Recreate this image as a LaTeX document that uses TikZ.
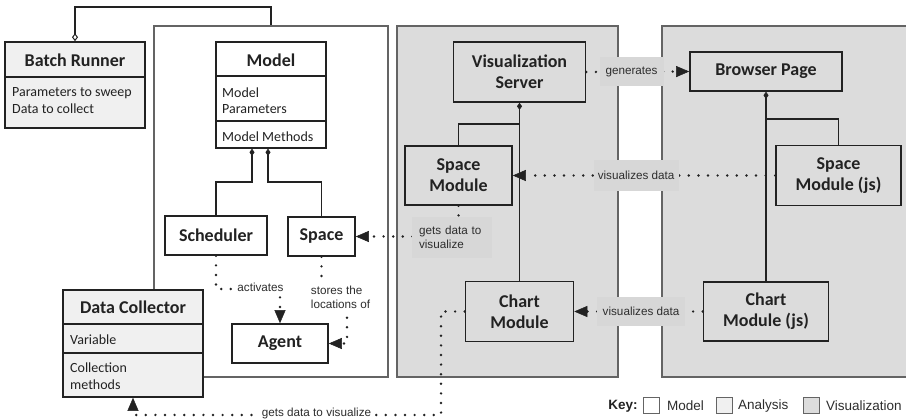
\documentclass[tikz,border=0pt]{standalone}
\usepackage{fontspec}
\setmainfont{Carlito}
\newfontfamily\lblfont{Liberation Sans}
\usepackage{tikz}
\usetikzlibrary{arrows.meta}
\usepackage{xcolor}
\definecolor{BoxLine}{RGB}{34,34,34}
\definecolor{AreaLine}{RGB}{100,100,100}
\definecolor{VisFill}{RGB}{220,220,220}
\definecolor{LblFill}{RGB}{215,215,215}
\definecolor{AnaFill}{RGB}{240,240,240}
\definecolor{LblText}{RGB}{45,45,45}

\begin{document}
\begin{tikzpicture}[x=1pt,y=-1pt,
  area/.style={draw=AreaLine,line width=1.1pt,inner sep=0pt},
  cls/.style={draw=BoxLine,line width=1.6pt,inner sep=0pt,text=BoxLine,
              font=\bfseries\fontsize{18}{21}\selectfont,align=center},
  txt/.style={font=\fontsize{14}{16.5}\selectfont,anchor=west,align=left,
              inner sep=0pt,text=BoxLine},
  sep/.style={draw=BoxLine,line width=1.6pt},
  link/.style={draw=BoxLine,line width=1.6pt},
  comp/.style={link,{Diamond[length=7pt,width=5pt,line width=0.5pt]}-},
  dots/.style={draw=BoxLine,line width=2.7pt,line cap=round,
               dash pattern=on 0pt off 9.6pt,
               -{Triangle[length=13pt,width=11pt,line width=0.5pt]}},
  lbl/.style={font=\lblfont\fontsize{11.7}{14}\selectfont,text=LblText,
              inner xsep=4pt,inner ysep=3pt},
  keybox/.style={draw=AreaLine,line width=1pt,minimum size=16pt,inner sep=0pt},
  keytxt/.style={font=\lblfont\fontsize{13.5}{16}\selectfont,text=LblText,
                 anchor=west,inner sep=0pt},
]
\useasboundingbox (0,0) rectangle (906,419);

% package areas
\node[area,fill=white,minimum width=234pt,minimum height=351pt] (modelarea) at (271,201.5) {};
\node[area,fill=VisFill,minimum width=221pt,minimum height=351pt] (visarea) at (507.5,201.5) {};
\node[area,fill=VisFill,minimum width=254pt,minimum height=351pt] (brwarea) at (789,201.5) {};

% batch runner
\node[cls,fill=AnaFill,minimum width=140pt,minimum height=86pt] (batch) at (75,85) {};
\node[cls,draw=none] (batchT) at (75,60) {Batch Runner};
\draw[sep] (batch.west |- 0,77) -- (batch.east |- 0,77);
\node[txt] (batchB) at (12,100.5) {Parameters to sweep\\Data to collect};
\draw[link,{Diamond[open,length=8pt,width=6pt,line width=1pt]}-]
  (batch.north) -- (75,7) -| (modelarea.north);

% model core
\node[cls,fill=white,minimum width=110pt,minimum height=106pt] (model) at (271,95) {};
\node[cls,draw=none] (modelT) at (271,60) {Model};
\draw[sep] (model.west |- 0,76) -- (model.east |- 0,76);
\draw[sep] (model.west |- 0,121) -- (model.east |- 0,121);
\node[txt] (modelP) at (222,100.5) {Model\\Parameters};
\node[txt] (modelM) at (222,137) {Model Methods};

\node[cls,fill=white,minimum width=102pt,minimum height=39pt] (sched) at (216,235.5) {Scheduler};
\node[cls,fill=white,minimum width=67pt,minimum height=39pt] (space) at (321.5,236.5) {Space};
\node[cls,fill=white,minimum width=96pt,minimum height=39pt] (agent) at (280,343.5) {Agent};

\draw[comp] (model.south -| 252,0) -- (252,182) -| (sched.north);
\draw[comp] (model.south -| 268,0) -- (268,182) -| (space.north);

\draw[dots] (sched.south) |- (agent.north |- 0,289) -- (agent.north);
\node[lbl,fill=white] (actlbl) at (260.5,287) {activates};
\draw[dots] (space.south) |- (347,297) |- (agent.east);
\node[lbl,fill=white,align=left] (storelbl) at (340.5,297) {stores the\\locations of};

% data collector
\node[cls,fill=AnaFill,minimum width=140pt,minimum height=107pt] (datacol) at (133,343.5) {};
\node[cls,draw=none] (datacolT) at (133,307) {Data Collector};
\draw[sep] (datacol.west |- 0,324) -- (datacol.east |- 0,324);
\draw[sep] (datacol.west |- 0,353) -- (datacol.east |- 0,353);
\node[txt] (datacolV) at (70,340) {Variable};
\node[txt] (datacolC) at (70,376) {Collection\\methods};

% visualization server side
\node[cls,fill=VisFill,minimum width=132pt,minimum height=60pt] (vserver) at (519.5,72) {Visualization\\Server};
\node[cls,fill=VisFill,minimum width=107pt,minimum height=59pt] (spacemod) at (458.5,175.5) {Space\\Module};
\node[cls,fill=VisFill,minimum width=108pt,minimum height=60pt] (chartmod) at (519.5,311.5) {Chart\\Module};
\draw[comp] (vserver.south) -- (chartmod.north);
\draw[link] (vserver.south |- 0,124) -| (spacemod.north);

% browser side
\node[cls,fill=VisFill,minimum width=152pt,minimum height=39pt] (browser) at (766,71.5) {Browser Page};
\node[cls,fill=VisFill,minimum width=125pt,minimum height=60pt] (spacejs) at (838.5,175.5) {Space\\Module (js)};
\node[cls,fill=VisFill,minimum width=125pt,minimum height=59pt] (chartjs) at (766,311.5) {Chart\\Module (js)};
\draw[comp] (browser.south) -- (chartjs.north);
\draw[link] (browser.south |- 0,119) -| (spacejs.north);

% data flow
\draw[dots] (vserver.east) -- (browser.west)
  node[lbl,fill=LblFill,pos=0.44,minimum height=29pt,inner xsep=6pt] {generates};
\draw[dots] (spacejs.west) -- (spacemod.east)
  node[lbl,fill=LblFill,pos=0.53,minimum height=31pt] {visualizes data};
\draw[dots] (chartjs.west) -- (chartmod.east)
  node[lbl,fill=LblFill,pos=0.48,minimum height=29pt,inner xsep=6pt] {visualizes data};
\draw[dots] (spacemod.south) |- (space.east)
  node[lbl,fill=LblFill,pos=0.5,xshift=-6.5pt,yshift=-1pt,align=left,
       text width=66pt,inner xsep=7pt,minimum height=41pt] {gets data to\\visualize};
\draw[dots] (chartmod.west) -| (441,415) -| (datacol.south);
\node[lbl,fill=white] (getlbl) at (316.5,413) {gets data to visualize};

% key
\node[font=\lblfont\bfseries\fontsize{13.5}{16}\selectfont,text=BoxLine,inner sep=0pt] (keyhd) at (623,406) {Key:};
\node[keybox,fill=white] (keymodel) at (651.5,406) {};
\node[keytxt] (keymodelT) at (667,406) {Model};
\node[keybox,fill=AnaFill] (keyana) at (724,406) {};
\node[keytxt] (keyanaT) at (738,406) {Analysis};
\node[keybox,fill=VisFill] (keyvis) at (811,406) {};
\node[keytxt] (keyvisT) at (826,406) {Visualization};
\end{tikzpicture}
\end{document}
